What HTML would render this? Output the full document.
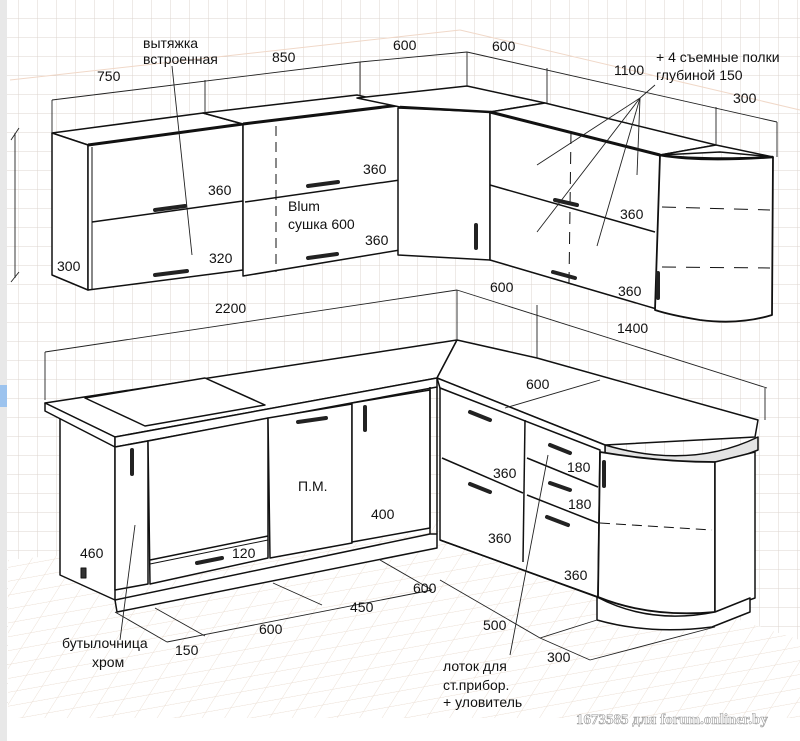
<!DOCTYPE html>
<html><head><meta charset="utf-8"><style>
html,body{margin:0;padding:0;background:#fff}
svg{display:block}
text{font-family:"Liberation Sans","DejaVu Sans",sans-serif;font-size:14px;fill:#111}
</style></head><body>
<svg width="800" height="741" viewBox="0 0 800 741" xmlns="http://www.w3.org/2000/svg">
<defs>
<pattern id="g" width="19" height="19" patternUnits="userSpaceOnUse"><path d="M19 0V19M0 19H19" stroke="#dcd4cf" stroke-width="1" fill="none"/></pattern>
<pattern id="f" width="22" height="16" patternUnits="userSpaceOnUse" patternTransform="skewX(-40) rotate(-12)"><path d="M22 0V16M0 16H22" stroke="#eaddd2" stroke-width="1" fill="none"/></pattern>
</defs>
<rect width="800" height="741" fill="#fff"/>
<rect x="0" y="0" width="800" height="718" fill="url(#g)"/>
<polygon points="8,560 440,520 800,640 800,718 8,718" fill="#fff"/>
<polygon points="8,560 440,520 800,640 800,718 8,718" fill="url(#f)"/>
<rect x="0" y="0" width="7" height="741" fill="#e8e8e8"/>
<rect x="0" y="385" width="7" height="22" fill="#9cc3ee"/>
<line x1="10" y1="80" x2="460" y2="30" stroke="#f0d8c8"/>
<line x1="460" y1="30" x2="800" y2="110" stroke="#f0d8c8"/>

<g stroke="#111" fill="#fff" stroke-linejoin="round">
<polygon points="52,133 203,113 243,124 88,145" stroke-width="1.5"/>
<polygon points="52,133 88,145 88,290 52,275" stroke-width="1.5"/>
<polygon points="88,145 243,124 243,270 88,290" stroke-width="1.5"/>
<line x1="88" y1="145" x2="243" y2="124" stroke-width="3"/>
<line x1="92" y1="222" x2="243" y2="201" stroke-width="1.5"/>
<line x1="92" y1="147" x2="92" y2="290" stroke-width="1"/>
<polygon points="203,113 357,95 400,105 243,124" stroke-width="1.5"/>
<polygon points="243,124 400,105 400,250 243,276" stroke-width="1.5"/>
<line x1="243" y1="124" x2="400" y2="105" stroke-width="3"/>
<line x1="245" y1="202" x2="400" y2="180" stroke-width="1.5"/>
<line x1="276" y1="126" x2="276" y2="272" stroke-width="1" stroke-dasharray="10,6"/>
<polygon points="357,98 467,86 545,103 490,112 400,107" stroke-width="1.5"/>
<polygon points="398,108 490,112 490,260 398,255" stroke-width="1.5"/>
<line x1="400" y1="107" x2="490" y2="112" stroke-width="2.5"/>
<polygon points="490,112 545,103 716,145 660,155" stroke-width="1.5"/>
<polygon points="490,112 660,155 660,310 490,260" stroke-width="1.5"/>
<line x1="490" y1="112" x2="660" y2="155" stroke-width="3"/>
<line x1="490" y1="185" x2="655" y2="232" stroke-width="1.5"/>
<line x1="571" y1="132" x2="569" y2="283" stroke-width="1" stroke-dasharray="12,8"/>
<polygon points="660,155 716,145 773,157 720,152" stroke-width="1.5"/>
<path d="M660,155 Q700,160 773,157 L772,315 Q740,325 700,320 Q670,315 655,310 Z" stroke-width="1.8"/>
<path d="M660,155 Q700,162 773,157" stroke-width="2.5" fill="none"/>
<line x1="662" y1="207" x2="770" y2="210" stroke-width="1" stroke-dasharray="14,10"/>
<line x1="662" y1="267" x2="770" y2="268" stroke-width="1" stroke-dasharray="14,10"/>

<polygon points="60,418 115,445 115,600 60,575" stroke-width="1.5"/>
<polygon points="45,403 457,340 437,378 115,437" stroke-width="1.5"/>
<polygon points="45,403 115,437 115,447 45,411" stroke-width="1.5"/>
<polygon points="115,437 437,378 437,387 115,447" stroke-width="1.5"/>
<polygon points="85,398 205,378 265,405 145,426" stroke-width="1.5"/>
<polygon points="115,447 148,441 148,584 115,590" stroke-width="1.5"/>
<polygon points="148,441 268,418 268,558 150,584" stroke-width="1.5"/>
<line x1="150" y1="560" x2="268" y2="536" stroke-width="1.5"/>
<line x1="150" y1="564" x2="268" y2="540" stroke-width="1"/>
<polygon points="268,418 352,404 352,543 270,558" stroke-width="1.5"/>
<polygon points="352,403 430,390 430,528 352,542" stroke-width="1.5"/>
<polygon points="115,600 430,534 437,534 437,548 117,612" stroke-width="1.5"/>
<line x1="430" y1="387" x2="430" y2="534" stroke-width="1.5"/>
<line x1="437" y1="387" x2="437" y2="534" stroke-width="1.5"/>
<rect x="81" y="568" width="5" height="10" fill="#333"/>
<polygon points="437,378 457,340 537,358 758,420 755,437 605,445" stroke-width="1.5"/>
<path d="M605,445 Q690,470 758,437 L758,450 Q690,478 605,455 Z" stroke-width="1.5" fill="#e4e4e4"/>
<polygon points="437,378 605,445 605,455 440,388" stroke-width="1.5"/>
<polygon points="440,388 600,450 598,597 440,540" stroke-width="1.5"/>
<line x1="525" y1="420" x2="523" y2="562" stroke-width="1.5"/>
<line x1="442" y1="458" x2="523" y2="493" stroke-width="1.5"/>
<line x1="527" y1="458" x2="598" y2="487" stroke-width="1.5"/>
<line x1="527" y1="495" x2="598" y2="523" stroke-width="1.5"/>
<line x1="440" y1="540" x2="597" y2="597" stroke-width="1.5"/>
<path d="M600,452 Q660,462 715,462 L715,612 Q650,618 598,597 Z" stroke-width="1.8"/>
<line x1="600" y1="523" x2="712" y2="530" stroke-width="1" stroke-dasharray="10,6"/>
<polygon points="715,462 755,452 755,598 715,612" stroke-width="1.5"/>
<path d="M597,597 Q650,625 715,612 L750,598 L750,612 L712,627 Q650,635 597,620 Z" stroke-width="1.5"/>
</g>

<g stroke="#222" stroke-width="4" stroke-linecap="round">
<line x1="155" y1="210" x2="185" y2="206"/><line x1="155" y1="275" x2="187" y2="271"/>
<line x1="308" y1="186" x2="338" y2="182"/><line x1="308" y1="258" x2="337" y2="254"/>
<line x1="476" y1="225" x2="476" y2="248"/>
<line x1="555" y1="200" x2="577" y2="205"/><line x1="553" y1="272" x2="575" y2="278"/>
<line x1="658" y1="273" x2="658" y2="298"/>
<line x1="132" y1="450" x2="132" y2="474"/>
<line x1="197" y1="563" x2="222" y2="558"/>
<line x1="298" y1="422" x2="326" y2="418"/>
<line x1="365" y1="407" x2="365" y2="430"/>
<line x1="470" y1="412" x2="490" y2="420"/><line x1="470" y1="484" x2="490" y2="492"/>
<line x1="550" y1="445" x2="570" y2="453"/><line x1="550" y1="483" x2="570" y2="490"/><line x1="547" y1="517" x2="568" y2="525"/>
<line x1="604" y1="462" x2="604" y2="486"/>
</g>

<g stroke="#222" stroke-width="0.9" fill="none">
<line x1="52" y1="100" x2="360" y2="62"/><line x1="360" y1="62" x2="467" y2="52"/><line x1="467" y1="52" x2="777" y2="122"/>
<line x1="52" y1="100" x2="52" y2="133"/><line x1="205" y1="80" x2="205" y2="113"/><line x1="360" y1="62" x2="360" y2="95"/>
<line x1="467" y1="52" x2="467" y2="86"/><line x1="547" y1="68" x2="547" y2="103"/><line x1="716" y1="107" x2="716" y2="145"/><line x1="777" y1="122" x2="777" y2="157"/>
<line x1="15" y1="133" x2="15" y2="278"/><line x1="11" y1="140" x2="19" y2="128"/><line x1="11" y1="282" x2="19" y2="272"/>
<line x1="45" y1="352" x2="457" y2="290"/><line x1="45" y1="352" x2="45" y2="400"/><line x1="457" y1="290" x2="457" y2="340"/>
<line x1="457" y1="290" x2="767" y2="388"/><line x1="537" y1="305" x2="537" y2="358"/><line x1="765" y1="388" x2="765" y2="420"/>
<line x1="505" y1="408" x2="600" y2="380"/>
<line x1="115" y1="612" x2="167" y2="642"/><line x1="167" y1="642" x2="432" y2="590"/>
<line x1="155" y1="608" x2="205" y2="636"/><line x1="273" y1="583" x2="322" y2="605"/><line x1="380" y1="560" x2="432" y2="590"/>
<line x1="540" y1="638" x2="597" y2="620"/>
<line x1="440" y1="580" x2="540" y2="638"/><line x1="540" y1="638" x2="590" y2="660"/><line x1="590" y1="660" x2="715" y2="627"/>
<line x1="172" y1="66" x2="192" y2="255"/>
<line x1="640" y1="98" x2="537" y2="165"/><line x1="640" y1="98" x2="537" y2="232"/><line x1="640" y1="98" x2="597" y2="246"/><line x1="640" y1="98" x2="637" y2="175"/><line x1="640" y1="98" x2="655" y2="85"/>
<line x1="135" y1="525" x2="120" y2="640"/>
<line x1="548" y1="455" x2="510" y2="655"/>
</g>

<text x="143" y="48">вытяжка</text><text x="143" y="64">встроенная</text>
<text x="97" y="81">750</text><text x="272" y="62">850</text><text x="393" y="50">600</text><text x="492" y="51">600</text>
<text x="614" y="75">1100</text><text x="656" y="62">+ 4 съемные полки</text><text x="656" y="80">глубиной 150</text><text x="733" y="103">300</text>
<text x="208" y="195">360</text><text x="209" y="263">320</text><text x="57" y="271">300</text>
<text x="363" y="174">360</text><text x="288" y="211">Blum</text><text x="288" y="229">сушка 600</text><text x="365" y="245">360</text>
<text x="620" y="219">360</text><text x="618" y="296">360</text>
<text x="490" y="292">600</text><text x="215" y="313">2200</text><text x="617" y="333">1400</text><text x="526" y="389">600</text>
<text x="493" y="478">360</text><text x="567" y="472">180</text><text x="568" y="509">180</text><text x="488" y="543">360</text><text x="564" y="580">360</text>
<text x="298" y="491">П.М.</text><text x="371" y="519">400</text><text x="232" y="558">120</text><text x="80" y="558">460</text>
<text x="413" y="593">600</text><text x="350" y="612">450</text><text x="259" y="634">600</text><text x="175" y="655">150</text>
<text x="483" y="630">500</text><text x="547" y="662">300</text>
<text x="62" y="648">бутылочница</text><text x="92" y="667">хром</text>
<text x="443" y="671">лоток для</text><text x="443" y="690">ст.прибор.</text><text x="443" y="707">+ уловитель</text>
<text x="576" y="724" style="font-family:'Liberation Serif',serif;font-weight:bold;font-size:15px;fill:#fff;stroke:#999;stroke-width:0.6">1673585 для forum.onliner.by</text>
</svg>
</body></html>
